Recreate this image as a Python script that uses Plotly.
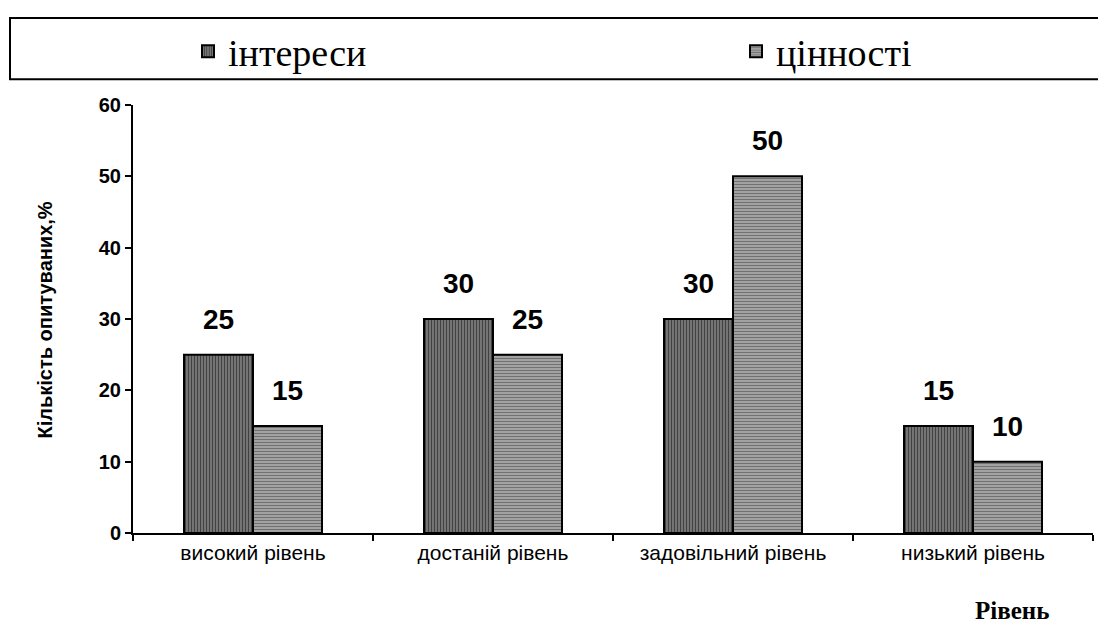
import plotly.graph_objects as go

categories = ["високий рівень", "достаній рівень", "задовільний рівень", "низький рівень"]
interests = [25, 30, 30, 15]
values_ = [15, 25, 50, 10]
series_names = ["інтереси", "цінності"]
y_ticks = [0, 10, 20, 30, 40, 50, 60]

OFF = 8  # page body margin
L, R, T, B = 133 - OFF, 13, 100 - OFF, 100
W, H = 1106 - OFF, 633 - OFF
PW = W - L - R
PH = H - T - B

def px_x(p):
    return (p - OFF - L) / PW

def px_y(p):
    return (H - B - (p - OFF)) / PH

fig = go.Figure()
fig.add_trace(go.Bar(
    x=categories, y=interests, name=series_names[0], legend="legend",
    marker=dict(color="#7f7f7f", line=dict(color="black", width=2),
                pattern=dict(shape="|", fgcolor="#000000", bgcolor="#858585",
                             size=3, solidity=0.5)),
))
fig.add_trace(go.Bar(
    x=categories, y=values_, name=series_names[1], legend="legend2",
    marker=dict(color="#a0a0a0", line=dict(color="black", width=2),
                pattern=dict(shape="-", fgcolor="#3a3a3a", bgcolor="#a8a8a8",
                             size=3, solidity=0.4)),
))

annotations = []
for vals, shift in ((interests, -34.5), (values_, 34.5)):
    for c, v in zip(categories, vals):
        annotations.append(dict(x=c, y=v, xref="x", yref="y", text=str(v),
                                showarrow=False, xshift=shift, yshift=18,
                                xanchor="center", yanchor="bottom",
                                font=dict(family="Liberation Sans, Arial", size=28,
                                          color="black", weight="bold")))
annotations.append(dict(x=px_x(1012), y=px_y(611), xref="paper", yref="paper",
                        text="<b>Рівень</b>", showarrow=False,
                        xanchor="center", yanchor="middle",
                        font=dict(family="Liberation Serif, Times New Roman", size=25,
                                  color="black")))
annotations.append(dict(x=px_x(45), y=px_y(318), xref="paper", yref="paper",
                        text="<b>Кількість опитуваних,%</b>", showarrow=False,
                        textangle=-90, xanchor="center", yanchor="middle",
                        font=dict(family="Liberation Sans, Arial", size=20,
                                  color="black")))

legend_font = dict(family="Liberation Serif, Times New Roman", size=38, color="black")
fig.update_layout(
    width=W, height=H,
    margin=dict(l=L, r=R, t=T, b=B),
    paper_bgcolor="white", plot_bgcolor="white",
    barmode="group", bargap=0.425, bargroupgap=0,
    showlegend=True,
    legend=dict(x=px_x(188), y=px_y(46), xanchor="left", yanchor="middle",
                orientation="h", bgcolor="rgba(0,0,0,0)", font=legend_font),
    legend2=dict(x=px_x(736), y=px_y(46), xanchor="left", yanchor="middle",
                 orientation="h", bgcolor="rgba(0,0,0,0)", font=legend_font),
    annotations=annotations,
    shapes=[dict(type="rect", xref="paper", yref="paper",
                 x0=px_x(10), x1=px_x(1130), y0=px_y(74), y1=px_y(12),
                 line=dict(color="black", width=2), fillcolor="rgba(0,0,0,0)")],
    xaxis=dict(showline=True, linecolor="black", linewidth=2,
               ticks="outside", ticklen=6, tickwidth=2, tickcolor="black",
               tickson="boundaries", showgrid=False,
               tickfont=dict(family="Liberation Sans, Arial", size=21, color="black")),
    yaxis=dict(range=[0, 60], tickvals=y_ticks, showline=True, linecolor="black",
               linewidth=2, ticks="outside", ticklen=6, tickwidth=2, tickcolor="black",
               showgrid=False, zeroline=False,
               tickfont=dict(family="Liberation Sans, Arial", size=20, color="black",
                             weight="bold")),
)

fig.write_html("out.html")
